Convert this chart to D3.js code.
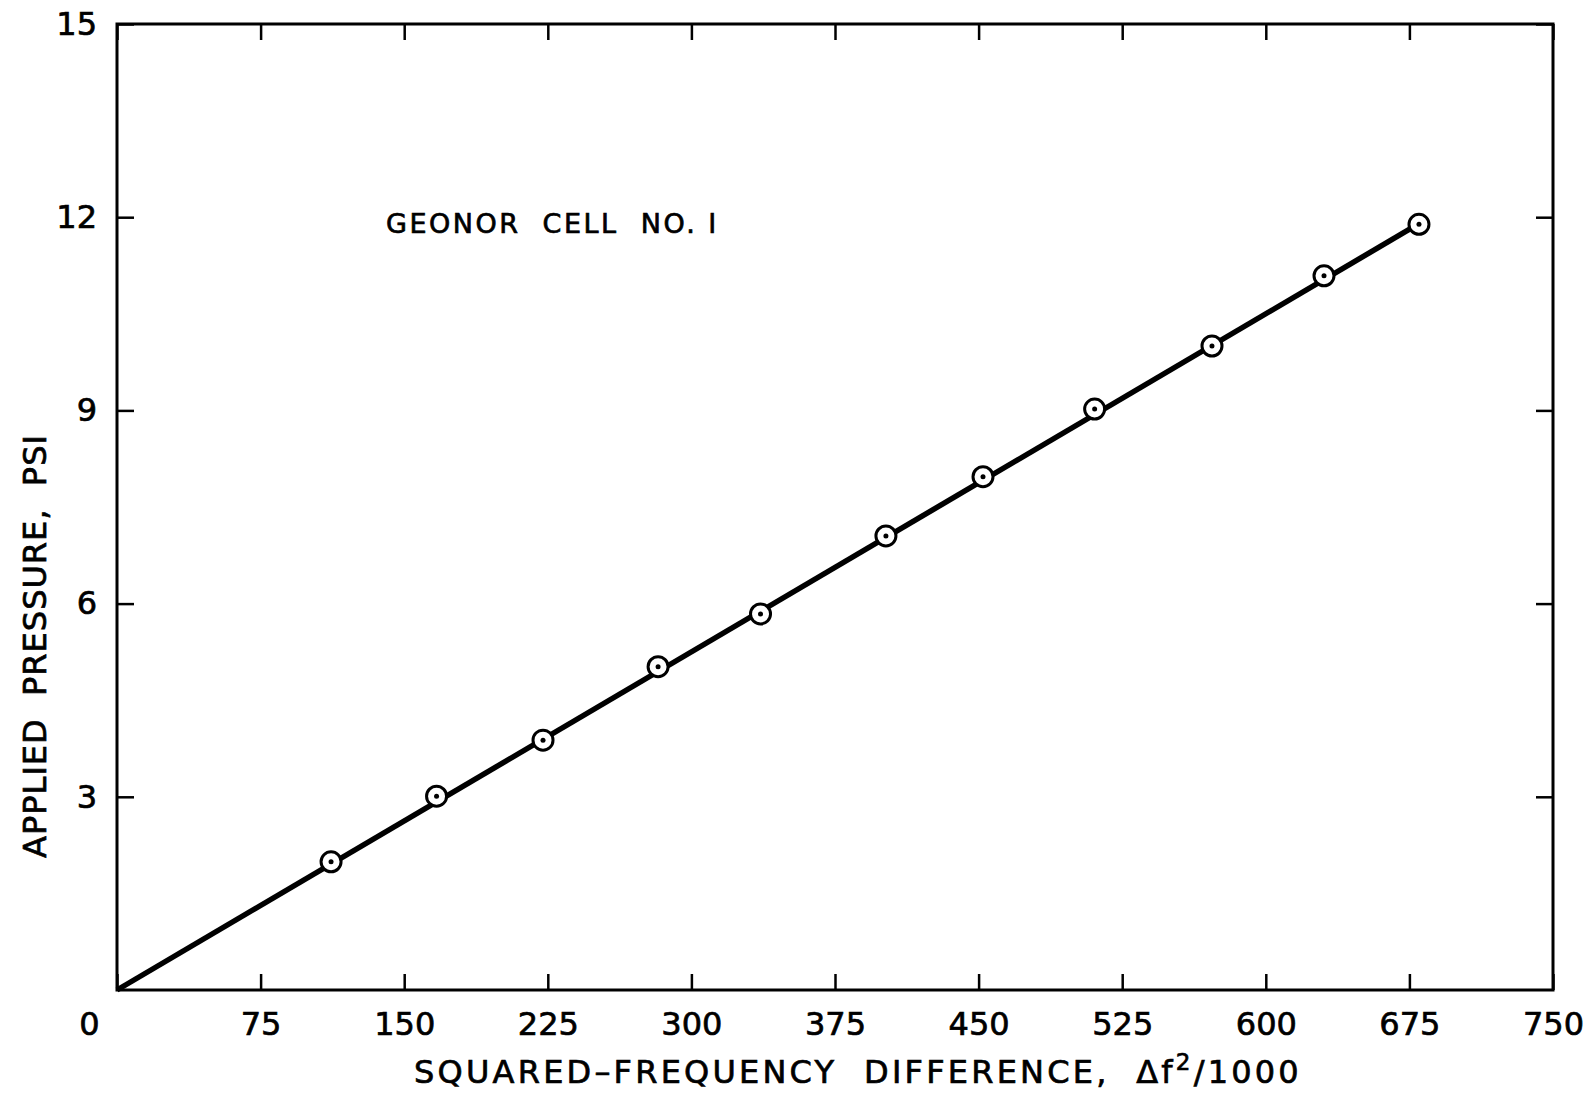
<!DOCTYPE html>
<html>
<head>
<meta charset="utf-8">
<script src="https://cdn.jsdelivr.net/npm/d3@7"></script>
<style>
    body { margin: 0; background: #fff; }
    svg text { font-family: "DejaVu Sans", sans-serif; fill: #000; stroke: #000; stroke-width: 0.7px; white-space: pre; }
    .frame { fill: none; stroke: #000; stroke-width: 3; }
    .axis path.domain { display: none; }
    .axis line { stroke: #000; stroke-width: 2.5; }
    .fitLine { fill: none; stroke: #000; stroke-width: 5.5; }
</style>
</head>
<body>
<div id="chart"></div>
<script>

// readings
var freqDiff = [111.8, 166.9, 222.5, 282.6, 336.1, 401.6, 452.3, 510.6, 571.9, 630.4, 680];
var pressure = [1.99, 3.01, 3.88, 5.02, 5.84, 7.05, 7.97, 9.02, 10.0, 11.09, 11.89];
// straight calibration line, drawn from origin to last reading
var lineX = [0, 680];
var lineY = [0, 11.9];
var xTicks = [0, 75, 150, 225, 300, 375, 450, 525, 600, 675, 750];
var yTicks = [3, 6, 9, 12, 15];

var margin = {top: 24, right: 39, bottom: 107, left: 117},
    width = 1592 - margin.left - margin.right,
    height = 1097 - margin.top - margin.bottom;

var svg = d3.select("#chart")
    .append("svg")
    .attr("width", 1592)
    .attr("height", 1097)
    .append("g")
    .attr("transform", "translate(" + margin.left + "," + margin.top + ")");

var xScale = d3.scaleLinear().domain([0, 750]).range([0, width]);
var yScale = d3.scaleLinear().domain([0, 15]).range([height, 0]);

// bottom axis with labels, ticks point inward
svg.append("g")
    .attr("class", "x axis")
    .attr("transform", "translate(0," + height + ")")
    .call(d3.axisBottom(xScale).tickValues(xTicks).tickSizeInner(-16).tickSizeOuter(0).tickPadding(22))
    .selectAll("text")
    .style("font-size", "32px")
    .attr("dx", function (d) { return d === 0 ? -28 : 0; });

svg.append("g")
    .attr("class", "x axis")
    .call(d3.axisTop(xScale).tickValues(xTicks).tickSizeInner(-16).tickSizeOuter(0).tickFormat(""));

svg.append("g")
    .attr("class", "y axis")
    .call(d3.axisLeft(yScale).tickValues(yTicks).tickSizeInner(-17).tickSizeOuter(0).tickPadding(20))
    .selectAll("text")
    .style("font-size", "32px");

svg.append("g")
    .attr("class", "y axis")
    .attr("transform", "translate(" + width + ",0)")
    .call(d3.axisRight(yScale).tickValues(yTicks).tickSizeInner(-17).tickSizeOuter(0).tickFormat(""));

svg.append("rect")
    .attr("class", "frame")
    .attr("width", width)
    .attr("height", height);

var line = d3.line()
    .x(function (d) { return xScale(d[0]); })
    .y(function (d) { return yScale(d[1]); });

svg.append("path")
    .attr("class", "fitLine")
    .attr("d", line(d3.zip(lineX, lineY)));

var pts = d3.zip(freqDiff, pressure);

svg.selectAll("circle.pt")
    .data(pts)
    .enter()
    .append("circle")
    .attr("class", "pt")
    .attr("cx", function (d) { return xScale(d[0]); })
    .attr("cy", function (d) { return yScale(d[1]); })
    .attr("r", 10)
    .attr("fill", "#fff")
    .attr("stroke", "#000")
    .attr("stroke-width", 3);

svg.selectAll("circle.dot")
    .data(pts)
    .enter()
    .append("circle")
    .attr("class", "dot")
    .attr("cx", function (d) { return xScale(d[0]); })
    .attr("cy", function (d) { return yScale(d[1]); })
    .attr("r", 2.5)
    .attr("fill", "#000");

svg.append("text")
    .attr("x", 386 - margin.left)
    .attr("y", 233 - margin.top)
    .style("font-size", "27px")
    .style("letter-spacing", "2.5px")
    .text("GEONOR  CELL  NO. I");

// x axis title
var xt = svg.append("text")
    .attr("x", (409 + 1307) / 2 - margin.left)
    .attr("y", 1083 - margin.top)
    .attr("text-anchor", "middle")
    .style("font-size", "32px")
    .style("letter-spacing", "3.2px");
xt.append("tspan").text("SQUARED\u2013FREQUENCY  DIFFERENCE,  \u0394f");
xt.append("tspan").attr("dy", -13).style("font-size", "23px").text("2");
xt.append("tspan").attr("dy", 13).text("/1000");

// y axis title
svg.append("text")
    .attr("transform", "translate(" + (46 - margin.left) + "," + (646 - margin.top) + ") rotate(-90)")
    .attr("text-anchor", "middle")
    .style("font-size", "32px")
    .style("letter-spacing", "1px")
    .text("APPLIED  PRESSURE,  PSI");

</script>
</body>
</html>
